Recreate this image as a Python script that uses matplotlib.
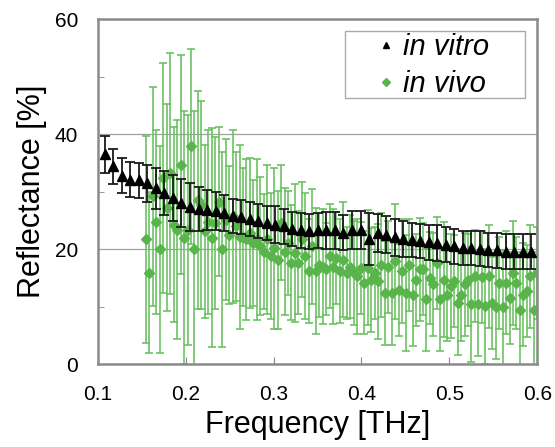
import numpy as np
import matplotlib
matplotlib.use("Agg")
import matplotlib.pyplot as plt
from matplotlib.ticker import MultipleLocator
from matplotlib.lines import Line2D
from matplotlib.patches import Rectangle

plt.rcParams['font.family'] = ['Liberation Sans', 'DejaVu Sans']

# in vitro: mean reflectance and std
vitro_freq = np.linspace(0.108, 0.593, 51)
vitro_refl = [36.5, 34.4, 32.8, 32.1, 32.0, 31.5, 30.6, 29.8, 29.0, 28.1,
              27.4, 27.0, 26.8, 26.6, 26.3, 25.8, 25.6, 25.3, 24.9, 24.6,
              24.3, 24.0, 23.5, 23.3, 23.1, 23.3, 23.3, 23.3, 22.9, 23.4,
              23.3, 21.8, 22.8, 22.5, 22.1, 21.8, 21.6, 21.4, 21.2, 21.1,
              20.8, 20.5, 20.2, 20.2, 20.1, 19.9, 19.8, 19.6, 19.6, 19.6,
              19.6]
vitro_err = [3.2, 3.0, 3.0, 3.0, 3.0, 3.2, 3.6, 3.8, 4.0, 4.2,
             4.2, 3.8, 3.5, 3.3, 3.2, 3.0, 3.0, 3.0, 3.0, 3.0,
             3.2, 3.0, 3.0, 3.0, 3.0, 3.0, 3.2, 3.2, 3.0, 3.3,
             3.3, 4.5, 3.3, 3.2, 3.2, 3.2, 3.0, 3.0, 3.0, 3.2,
             3.0, 3.0, 3.0, 3.0, 3.0, 3.0, 3.0, 3.0, 3.0, 3.0,
             3.0]

# in vivo
vivo_freq = np.linspace(0.155, 0.600, 114)
vivo_refl = [21.7, 15.9, 29.2, 24.8, 20.0, 32.4, 27.2, 33.2, 24.3, 23.4,
             34.7, 22.0, 23.4, 37.9, 20.0, 28.6, 27.7, 23.1, 24.8, 22.0,
             24.6, 28.3, 20.0, 25.1, 22.5, 25.7, 24.0, 22.2, 22.2, 21.7,
             22.8, 21.1, 21.7, 20.5, 19.6, 21.7, 18.8, 20.2, 18.2, 24.6,
             19.6, 21.1, 17.7, 19.4, 17.7, 21.7, 18.8, 16.2, 20.5, 16.2,
             17.3, 17.0, 16.5, 18.8, 17.0, 18.5, 16.2, 18.2, 15.9, 17.0,
             15.9, 15.3, 16.8, 14.2, 16.8, 14.7, 15.9, 14.4, 17.3, 12.4,
             17.0, 12.4, 17.9, 13.0, 16.2, 12.4, 17.3, 12.1, 14.7, 16.5,
             16.5, 11.3, 15.0, 13.9, 17.6, 11.3, 14.7, 12.1, 13.6, 14.4,
             10.7, 12.1, 13.9, 14.7, 10.4, 15.3, 10.4, 15.1, 10.1, 15.3,
             10.7, 9.9, 14.2, 9.9, 14.2, 11.6, 15.9, 14.2, 9.5, 12.1,
             12.7, 15.3, 9.5, 15.9]
vivo_err = [18, 14, 19, 16, 18, 20, 18, 21, 17, 19,
            19, 22, 20, 17, 24, 19, 18, 15, 16, 19,
            15, 13, 17, 14, 12, 15, 13, 16, 12, 14,
            13, 11, 14, 12, 10, 13, 11, 14, 12, 10,
            11, 9, 10, 12, 9, 10, 11, 9, 10, 11,
            9, 10, 8, 9, 10, 8, 9, 10, 8, 9,
            9, 10, 8, 9, 10, 9, 8, 10, 9, 9,
            8, 9, 10, 8, 9, 10, 8, 9, 8, 9,
            8, 9, 8, 9, 8, 9, 10, 8, 9, 8,
            9, 8, 9, 8, 10, 8, 9, 8, 10, 9,
            8, 9, 8, 10, 9, 8, 9, 8, 10, 9,
            8, 9, 10, 8]

GREEN = '#5ab44c'

fig = plt.figure(figsize=(5.55, 4.47), dpi=100)
ax = fig.add_axes([0.176, 0.185, 0.792, 0.772])

ax.errorbar(vivo_freq, vivo_refl, yerr=vivo_err, fmt='D', color=GREEN,
            ecolor='#68c05e', elinewidth=1.15, capsize=3, capthick=1.15,
            markersize=5, zorder=2)
ax.errorbar(vitro_freq, vitro_refl, yerr=vitro_err, fmt='^', color='black',
            ecolor='#1a1a1a', elinewidth=1.3, capsize=3.5, capthick=1.3,
            markersize=6.5, zorder=3)

ax.set_xlim(0.1, 0.6)
ax.set_ylim(0, 60)
ax.xaxis.set_major_locator(MultipleLocator(0.1))
ax.yaxis.set_major_locator(MultipleLocator(20))
ax.yaxis.set_minor_locator(MultipleLocator(10))
ax.grid(axis='y', which='major', color='#a0a0a0', linewidth=0.9)
ax.set_axisbelow(True)

ax.tick_params(axis='both', which='both', direction='in', labelsize=15,
               color='#888888')
ax.tick_params(axis='x', length=5, pad=15)
ax.tick_params(axis='y', which='major', length=0, pad=14)
ax.tick_params(axis='y', which='minor', length=4)

for sp in ax.spines.values():
    sp.set_color('#8a8a8a')
    sp.set_linewidth(1.8)

ax.set_xlabel('Frequency [THz]', fontsize=22, labelpad=4)
ax.set_ylabel('Reflectance [%]', fontsize=22, labelpad=6)

# legend: marker-only handles, frame drawn separately
handles = [Line2D([], [], marker='^', color='black', linestyle='none', markersize=4.5),
           Line2D([], [], marker='D', color=GREEN, linestyle='none', markersize=3.8)]
ax.legend(handles, ['in vitro', 'in vivo'], loc='upper left',
          bbox_to_anchor=(0.635, 0.96), prop={'style': 'italic', 'size': 21},
          handlelength=0.6, handletextpad=0.3, borderpad=0, borderaxespad=0,
          labelspacing=0.3, frameon=False)
ax.add_patch(Rectangle((0.563, 0.772), 0.41, 0.194, transform=ax.transAxes,
                       facecolor='white', edgecolor='#aaaaaa', linewidth=1.0,
                       zorder=4))

fig.savefig('out.png', dpi=100)
